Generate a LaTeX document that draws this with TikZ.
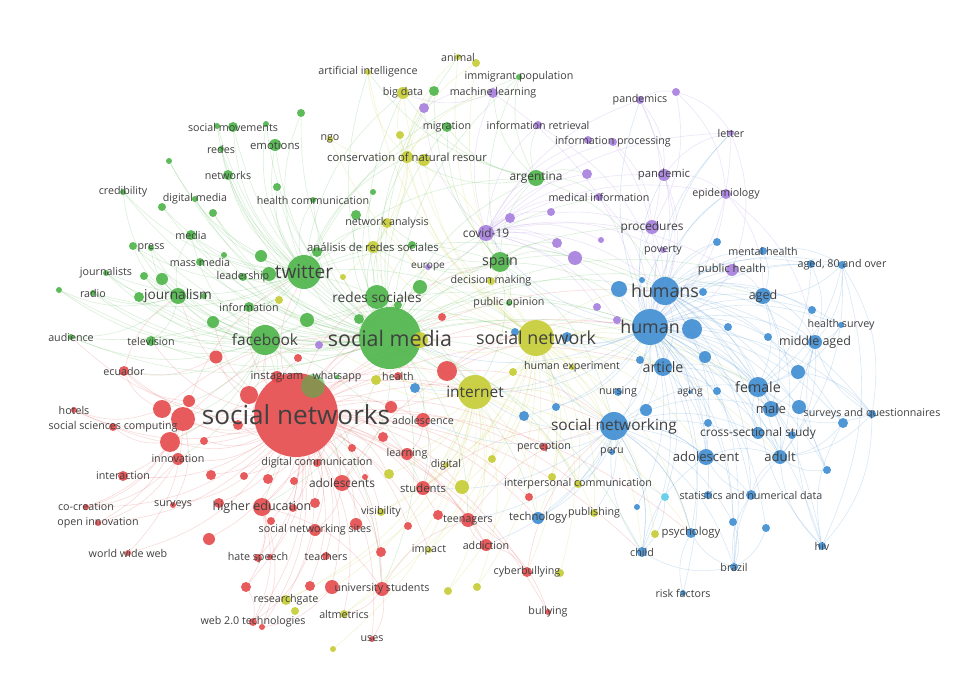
\documentclass[tikz,border=0pt]{standalone}
\usepackage{fontspec}
\setmainfont{Open Sans}
\pgfdeclarelayer{edges}
\pgfdeclarelayer{labels}
\pgfsetlayers{edges,main,labels}
\definecolor{vred}{RGB}{230,74,76}
\definecolor{vgreen}{RGB}{76,180,72}
\definecolor{vyellow}{RGB}{198,204,50}
\definecolor{vblue}{RGB}{62,140,210}
\definecolor{vpurple}{RGB}{166,126,222}
\definecolor{vcyan}{RGB}{92,204,232}

\begin{document}
\begin{tikzpicture}[x=1pt, y=-1pt,
  kwdot/.style={circle, inner sep=0pt, fill opacity=0.9},
  kwlabel/.style={inner sep=0pt, text=black!75},
  kwlink/.style={line width=0.6pt, draw opacity=0.2}]
	\useasboundingbox (0,0) rectangle (953,676);
	% red cluster
	\foreach \n/\x/\y/\d/\t/\s in {sn/296/415/84/{social networks}/22, ecu/124/371/10/ecuador/9, r1/216/357/13/{}/9, r2/298/358/8/{}/9, ins/277/377/12/instagram/9.5, r3/249/395/18/{}/9, r4/189/401/12/{}/9, r5/162/409/18/{}/9, r6/183/419/24/{}/9, r7/170/442/20/{}/9, r8/238/425/10/{}/9, r9/204/441/8/{}/9, hot/74/410/6/hotels/9, ssc/113/427/8/{social sciences computing}/9, inn/178/459/12/innovation/9, itr/123/476/10/interaction/9, r10/211/475/10/{}/9, r11/244/476/8/{}/9, r12/268/479/10/{}/9, r13/294/481/8/{}/9, dc/317/463/8/{digital communication}/9, cocr/86/507/6/co-creation/9, surv/173/505/6/surveys/9, he/262/507/18/{higher education}/10.5, r14/219/503/10/{}/9, r15/293/508/8/{}/9, r16/315/503/10/{}/9, oi/98/523/6/{open innovation}/9, r17/271/521/8/{}/9, sns/315/530/12/{social networking sites}/9, r18/209/539/12/{}/9, www/128/553/6/{world wide web}/9, hs/258/558/8/{hate speech}/9, r19/270/557/6/{}/9, tea/326/556/8/teachers/9, r20/246/587/10/{}/9, r21/310/586/10/{}/9, web/253/622/8/{web 2.0 technologies}/9, r22/262/627/6/{}/9, r23/356/524/12/{}/9, r24/408/526/8/{}/9, r25/438/515/10/{}/9, teen/468/520/14/teenagers/9, addi/486/545/12/addiction/9, r26/381/552/10/{}/9, cyb/527/572/10/cyberbullying/9, us/382/589/14/{university students}/9, r27/332/587/14/{}/9, uses/372/639/6/uses/9, bul/548/612/6/bullying/9, hea/398/376/8/health/9, r29/447/371/20/{}/9, ado/423/420/14/adolescence/9, r30/391/407/12/{}/9, r31/383/437/10/{}/9, r32/352/448/8/{}/9, lea/407/454/12/learning/9, r33/365/477/6/{}/9, ados/342/483/16/adolescents/10, stu/423/488/14/students/9.5, per/544/447/8/perception/9, r34/529/497/8/{}/9, r35/442/317/8/{}/9}{
		\node[kwdot, fill=vred, minimum size=\d pt] (\n) at (\x,\y) {};
		\pgfmathsetmacro\fs{1.19*\s}
		\begin{pgfonlayer}{labels}
			\node[kwlabel, font=\fontsize{\fs}{\fs}\selectfont] (\n-t) at (\x,\y) {\t};
		\end{pgfonlayer}
	}
	% green cluster
	\foreach \n/\x/\y/\d/\t/\s in {sm/390/338/62/{social media}/18, smv/233/127/10/{social movements}/9, g1/217/126/6/{}/9, g2/266/124/6/{}/9, rds/221/149/6/redes/9, emo/275/145/12/emotions/9.5, net/228/175/10/networks/9, g3/169/161/6/{}/9, g4/301/113/8/{}/9, g5/277/187/8/{}/9, cred/123/192/6/credibility/9, dm/195/199/6/{digital media}/9, hc/313/200/6/{health communication}/9, g6/162/207/8/{}/9, g7/213/213/8/{}/9, med/191/235/10/media/9, g8/133/246/8/{}/9, pre/151/248/6/press/9, mm/200/262/8/{mass media}/9, g9/224/255/6/{}/9, g10/261/256/12/{}/9, jts/106/273/6/journalists/9, g11/144/276/8/{}/9, g12/162/279/12/{}/9, lead/243/277/8/leadership/9, g13/269/274/14/{}/9, tw/304/272/34/twitter/16, rad/93/293/6/radio/9, g14/59/290/6/{}/9, jou/178/296/16/journalism/11.5, g15/139/297/10/{}/9, g16/204/296/6/{}/9, info/249/307/10/information/9, g17/213/322/12/{}/9, g18/307/320/14/{}/9, aud/71/337/6/audience/9, tv/151/341/10/television/9, fb/265/340/30/facebook/13, wa/337/377/4/whatsapp/9, g20/356/215/10/{}/9, g21/317/252/10/{}/9, g22/412/245/8/{}/9, rs/377/297/24/{redes sociales}/11.5, g23/420/287/14/{}/9, g24/398/305/8/{}/9, g25/359/319/10/{}/9, spa/500/262/20/spain/12, po/509/303/6/{public opinion}/9, arg/536/178/16/argentina/10, imm/519/77/6/{immigrant population}/9, g26/434/91/10/{}/9, mig/447/127/10/migration/9, g27/373/192/6/{}/9}{
		\node[kwdot, fill=vgreen, minimum size=\d pt] (\n) at (\x,\y) {};
		\pgfmathsetmacro\fs{1.19*\s}
		\begin{pgfonlayer}{labels}
			\node[kwlabel, font=\fontsize{\fs}{\fs}\selectfont] (\n-t) at (\x,\y) {\t};
		\end{pgfonlayer}
	}
	\node[kwdot, fill=vgreen, fill opacity=0.6, minimum size=24pt] (g19) at (313,386) {};
	% yellow cluster
	\foreach \n/\x/\y/\d/\t/\s in {snw/536/338/36/{social network}/15, int/475/392/34/internet/13, ai/368/72/6/{artificial intelligence}/9, ani/458/57/6/animal/9, y1/476/63/8/{}/9, bd/403/93/12/{big data}/9, y2/400/135/8/{}/9, ngo/330/139/6/ngo/9, cnr/407/157/12/{conservation of natural resour}/9.5, y3/424/160/12/{}/9, na/387/223/10/{network analysis}/9, ars/373/247/12/{análisis de redes sociales}/9.5, y4/343/277/6/{}/9, dmk/491/281/8/{decision making}/9, y5/420/340/16/{}/9, y6/279/300/8/{}/9, y7/376/380/10/{}/9, hexp/572/367/6/{human experiment}/9, y8/513/372/8/{}/9, y9/492/459/8/{}/9, dig/446/465/6/digital/9, y10/389/474/10/{}/9, y11/462/487/14/{}/9, ipc/578/484/8/{interpersonal communication}/9, y12/552/477/8/{}/9, vis/381/512/8/visibility/9, pub/594/513/8/publishing/9, imp/429/550/6/impact/9, y13/560/573/8/{}/9, y14/448/591/8/{}/9, y15/477/587/8/{}/9, rg/286/600/10/researchgate/9, y16/295/611/8/{}/9, alt/344/614/8/altmetrics/9, y17/333/649/6/{}/9, y18/655/534/8/{}/9}{
		\node[kwdot, fill=vyellow, minimum size=\d pt] (\n) at (\x,\y) {};
		\pgfmathsetmacro\fs{1.19*\s}
		\begin{pgfonlayer}{labels}
			\node[kwlabel, font=\fontsize{\fs}{\fs}\selectfont] (\n-t) at (\x,\y) {\t};
		\end{pgfonlayer}
	}
	% blue cluster
	\foreach \n/\x/\y/\d/\t/\s in {hum/650/327/36/human/15, hums/665/291/28/humans/15, b1/692/329/20/{}/9, b2/619/289/16/{}/9, b3/703/292/8/{}/9, b4/642/280/6/{}/9, mh/763/251/8/{mental health}/9, b5/717/242/8/{}/9, a80/842/265/8/{aged, 80 and over}/9, b6/811/264/8/{}/9, aged/763/296/16/aged/10.5, b7/812/310/8/{}/9, hsur/841/325/6/{health survey}/9, b8/728/327/8/{}/9, b9/768/337/8/{}/9, mid/815/342/14/{middle aged}/10.5, art/663/367/18/article/12, b10/705/357/12/{}/9, b11/640/360/8/{}/9, b12/798/372/14/{}/9, fem/758/387/20/female/12, aging/690/392/4/aging/8.5, b13/717/391/8/{}/9, b14/646/410/12/{}/9, male/771/409/16/male/11, b15/799/407/14/{}/9, saq/872/414/8/{surveys and questionnaires}/9, b16/843/423/10/{}/9, b17/708/423/8/{}/9, css/758/433/12/{cross-sectional study}/10, b18/792/435/8/{}/9, snwg/614/426/28/{social networking}/13, ado2/706/457/16/adolescent/11, adu/780/457/14/adult/11, b19/827/470/8/{}/9, snd/751/495/10/{statistics and numerical data}/9, b20/708/495/8/{}/9, b21/637/507/6/{}/9, b22/733/522/8/{}/9, b23/766/528/8/{}/9, psy/691/533/10/psychology/9.5, chi/642/552/10/child/9, hiv/822/546/8/hiv/9, bra/734/567/8/brazil/9, rf/683/593/6/{risk factors}/9, nur/618/392/8/nursing/9, b24/556/407/8/{}/9, b25/524/416/10/{}/9, peru/612/452/6/peru/9, b26/515/332/8/{}/9, b27/567/337/10/{}/9, b28/415/388/10/{}/9, tech/538/518/12/technology/9.5}{
		\node[kwdot, fill=vblue, minimum size=\d pt] (\n) at (\x,\y) {};
		\pgfmathsetmacro\fs{1.19*\s}
		\begin{pgfonlayer}{labels}
			\node[kwlabel, font=\fontsize{\fs}{\fs}\selectfont] (\n-t) at (\x,\y) {\t};
		\end{pgfonlayer}
	}
	\node[kwdot, fill=vcyan, minimum size=8pt] (cy) at (665,497) {};
	% purple cluster
	\foreach \n/\x/\y/\d/\t/\s in {cov/486/233/16/covid-19/10, p1/510/218/10/{}/9, p2/551/212/8/{}/9, p3/557/243/10/{}/9, p4/575/258/14/{}/9, p5/601/240/6/{}/9, p6/597/307/8/{}/9, p7/617/320/8/{}/9, p8/319/345/8/{}/9, eur/428/267/6/europe/8.5, ml/493/93/10/{machine learning}/9, p9/424/108/10/{}/9, ir/538/125/8/{information retrieval}/9, ip/613/142/8/{information processing}/9, p10/588/140/8/{}/9, p11/587/174/10/{}/9, mi/599/197/8/{medical information}/9, pds/640/100/8/pandemics/9, p12/676/92/8/{}/9, let/731/133/6/letter/9, pdm/664/175/12/pandemic/9.5, epi/726/194/10/epidemiology/9, pro/652/227/14/procedures/10, pov/663/250/6/poverty/9, ph/732/270/12/{public health}/9.5}{
		\node[kwdot, fill=vpurple, minimum size=\d pt] (\n) at (\x,\y) {};
		\pgfmathsetmacro\fs{1.19*\s}
		\begin{pgfonlayer}{labels}
			\node[kwlabel, font=\fontsize{\fs}{\fs}\selectfont] (\n-t) at (\x,\y) {\t};
		\end{pgfonlayer}
	}
	% links
	\begin{pgfonlayer}{edges}
		\fill[white] (0,0) rectangle (953,676);
		\foreach \b in {ecu,r1,r2,ins,r3,r4,r5,r6,r7,r8,r9,hot,ssc,inn,itr,r10,r11,r12,r13,dc,cocr,surv,he,r14,r15,r16,oi,r17,sns,r18,www,hs,r19,tea,r20,r21,web,r22,r23,r24,r25,teen,addi,r26,cyb,us,r27,uses,bul,hea,r29,ado,r30,r31,r32,lea,r33,ados,stu,per,r34,r35,sm,int,snw,fb,tw,hum,snwg,tech,chi,spa,jou,tv,aud,ipc,psy,hums,art,rs,info,g17,rg,alt,vis,imp,y10,y11}
			\draw[kwlink, vred] (sn) to[bend left=20] (\b);
		\foreach \a/\b in {r6/cocr,r6/oi,r6/surv,r6/www,r6/hot,r6/itr,r7/ssc,r7/cocr,r5/ecu,r5/hot,he/web,he/hs,he/r20,he/r22,he/us,us/uses,us/alt,us/teen,addi/cyb,addi/teen,teen/bul,r29/int,r29/snw,r29/snwg,r29/hum,ado/stu,ado/lea,ados/us,ados/sns,stu/addi,stu/teen,inn/oi,inn/cocr,r4/ecu,r1/ecu,r3/ins,r27/r22,r20/web,sns/web,r6/sm,r5/sm,r7/int,he/int,ados/snw,stu/snwg,teen/snwg,cyb/snwg,r6/tw,ecu/jou}
			\draw[kwlink, vred] (\a) to[bend left=20] (\b);
		\foreach \b in {smv,g1,g2,rds,emo,net,g3,g4,g5,cred,dm,hc,g6,g7,med,g8,pre,mm,g9,g10,jts,g11,g12,lead,g13,tw,rad,g14,jou,g15,g16,info,g17,g18,aud,tv,fb,g20,g21,g22,rs,g23,g24,g25,spa,po,arg,imm,g26,mig,g27,snw,int,hum,hums,snwg,art,cov,na,ars,bd,cnr,ani,ai,pro,ph,mi,dmk,eur,tech,ipc,chi,aged,fem,ado,stu,ados,he,teen,us}
			\draw[kwlink, vgreen] (sm) to[bend left=20] (\b);
		\foreach \b in {smv,emo,net,rds,cred,dm,hc,med,mm,jts,lead,jou,rad,info,fb,g4,g5,g3,g6,g7,g8,g10,g13,arg,spa,hums,g2,g1,aud,tv,snw,int,mig,imm,na,ars,cnr,bd}
			\draw[kwlink, vgreen] (tw) to[bend left=20] (\b);
		\foreach \b in {jou,tv,aud,rad,jts,pre,med,g14,g15,g12,g17,g11,ecu,int,snw,hum,r5,r6,r7,inn,he,ados,stu,ins,r3,us}
			\draw[kwlink, vgreen] (fb) to[bend left=20] (\b);
		\foreach \b in {jts,g14,rad,aud,tv,pre,g8,g11,cred,med}
			\draw[kwlink, vgreen] (jou) to[bend left=20] (\b);
		\foreach \b in {arg,po,dmk,cov,eur,na,ars,hum,hums,int,snwg,mig,imm,g26,p4,p3}
			\draw[kwlink, vgreen] (spa) to[bend left=20] (\b);
		\foreach \b in {mig,imm,bd,ai,cnr,ml,ir,mi,p11,hums}
			\draw[kwlink, vgreen] (arg) to[bend left=20] (\b);
		\foreach \b in {int,y5,dmk,hexp,y8,ipc,y12,pub,y13,y9,y11,dig,hum,hums,snwg,art,y18,cnr,bd,na,ars,ani,ai,ngo,y1,y2,imp,vis,y14,y15,alt,rg,psy,tech,peru,per,nur,cyb,y3,fem,male,ado2,adu,chi}
			\draw[kwlink, vyellow] (snw) to[bend left=20] (\b);
		\foreach \b in {y10,y11,dig,y9,imp,vis,ado,stu,lea,hea,y7,y14,y15,y16,rg,alt,y17,teen,pub,ipc,y4,y6,ars,snwg,art,hum,psy,tech}
			\draw[kwlink, vyellow] (int) to[bend left=20] (\b);
		\foreach \b in {ani,y1,ai,bd,ngo,y2,na,ars,spa,y4,g26,mig,y3,ml}
			\draw[kwlink, vyellow] (cnr) to[bend left=20] (\b);
		\foreach \b in {hums,b1,b2,b3,b4,mh,b5,a80,b6,aged,b7,hsur,b8,b9,mid,art,b10,b11,b12,fem,aging,b13,b14,male,b15,saq,b16,b17,css,b18,snwg,ado2,adu,b19,snd,b20,cy,b21,b22,b23,psy,chi,hiv,bra,rf,nur,b24,b25,peru,b26,b27,b28,tech,pro,ph,pdm,epi,let,pds,pov,sm,int,spa,cov,snw}
			\draw[kwlink, vblue] (hum) to[bend left=20] (\b);
		\foreach \b in {a80,b6,mh,b5,aged,mid,hsur,fem,male,adu,art,saq,b16,b12,css,ado2,hiv,snd,bra,b19,b7,let,epi,ph}
			\draw[kwlink, vblue] (hums) to[bend left=20] (\b);
		\foreach \b in {ado,stu,per,peru,tech,teen,addi,ipc,pub,psy,chi,ado2,int,snw,fem,male,adu,css,snd,b22,bra}
			\draw[kwlink, vblue] (snwg) to[bend left=20] (\b);
		\foreach \a/\b in {aged/mid,aged/fem,a80/aged,a80/mid,a80/saq,a80/hiv,b6/fem,saq/fem,saq/male,saq/adu,saq/mid,saq/hiv,hiv/adu,hiv/fem,hiv/mid,hiv/b16,bra/chi,bra/adu,bra/psy,bra/snd,chi/ado2,chi/snwg,snd/adu,snd/ado2,css/adu,css/fem,fem/male,fem/adu,male/adu,mid/fem,mid/male,mid/adu,art/fem,art/ado2,ado2/adu,snwg/ado2,snwg/chi,snwg/psy,b19/adu,b19/mid,hsur/mid,mh/aged,mh/a80,b22/bra,b23/bra,rf/psy,cy/snwg,cy/chi,aged/adu,aged/male,a80/fem,a80/adu,b6/mid,hsur/fem,art/adu,art/male,b12/saq,b16/adu}
			\draw[kwlink, vblue] (\a) to[bend left=20] (\b);
		\foreach \b in {p1,p2,p3,p4,p5,p6,p7,ml,ir,ip,mi,pds,pdm,epi,pro,ph,spa,hum,hums,eur,p9,p10,p11,pov,let}
			\draw[kwlink, vpurple] (cov) to[bend left=20] (\b);
		\foreach \a/\b in {pdm/let,pdm/epi,pds/p12,p12/epi,p12/pro,let/hum,ip/pro,pds/pro,pds/hum,ml/hum,ir/hums,p9/ml,ml/bd,epi/aged,epi/mid,let/ph,ph/aged,pdm/hum,pdm/hums,pro/hum,ph/hum,epi/hum,pds/pdm,ip/hum,mi/hum,p12/let}
			\draw[kwlink, vpurple] (\a) to[bend left=20] (\b);
	\end{pgfonlayer}
\end{tikzpicture}
\end{document}
